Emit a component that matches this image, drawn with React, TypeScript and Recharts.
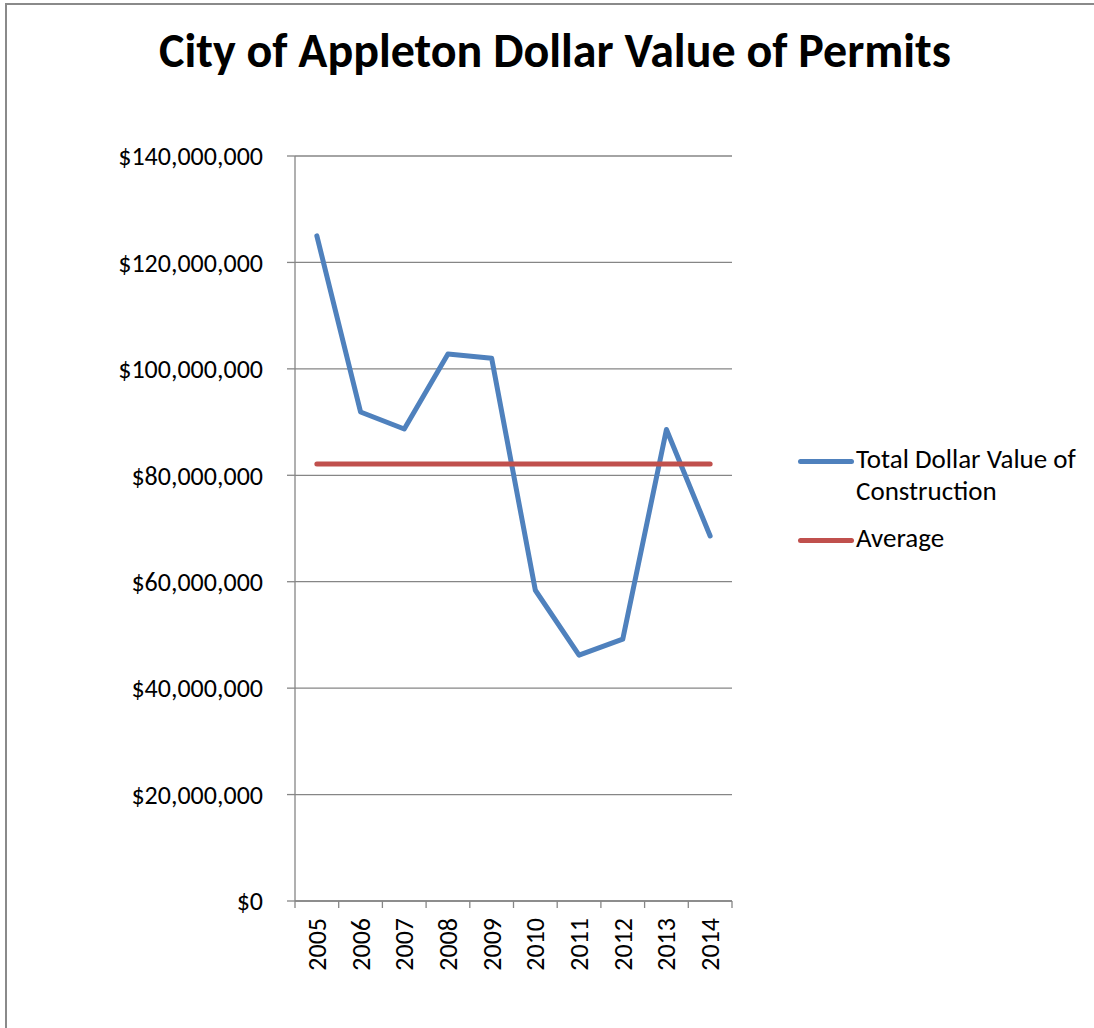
import React from 'react';
import { LineChart, Line, XAxis, YAxis, CartesianGrid } from 'recharts';

// values
const years = ['2005', '2006', '2007', '2008', '2009', '2010', '2011', '2012', '2013', '2014'];
const totalValues = [125000000, 91900000, 88700000, 102800000, 102000000, 58400000, 46200000, 49200000, 88600000, 68600000];
const averageValues = [82100000, 82100000, 82100000, 82100000, 82100000, 82100000, 82100000, 82100000, 82100000, 82100000];
const yTicks = [0, 20000000, 40000000, 60000000, 80000000, 100000000, 120000000, 140000000];

const seriesNames = ['Total Dollar Value of Construction', 'Average'];
const seriesColors = ['#4F81BD', '#C0504D'];

const data = years.map((year, i) => ({
  year,
  total: totalValues[i],
  average: averageValues[i],
}));

const FONT = 'Calibri, Carlito, Lato, sans-serif';
const GRID = '#868686';
const LABEL_GAP = 17;
const TICK_LEN = 7;

const money = (v: number) => '$' + v.toLocaleString('en-US');

// year label rotated, plus Excel-style tick marks on the category boundaries
const YearTick = (props: any) => {
  const { x, y, payload, index } = props;
  const half = payload.offset || 0;
  const axisY = y - LABEL_GAP;
  return (
    <g>
      <line x1={x - half} x2={x - half} y1={axisY} y2={axisY + TICK_LEN} stroke={GRID} strokeWidth={1.3} />
      {index === years.length - 1 && (
        <line x1={x + half} x2={x + half} y1={axisY} y2={axisY + TICK_LEN} stroke={GRID} strokeWidth={1.3} />
      )}
      <text
        x={x}
        y={y}
        transform={`rotate(-90, ${x}, ${y})`}
        textAnchor="end"
        dominantBaseline="central"
        fontFamily={FONT}
        fontSize={26}
        fill="#000"
      >
        {payload.value}
      </text>
    </g>
  );
};

const App = () => {
  return (
    <div style={{ position: 'absolute', left: 0, top: 0, width: 1094, height: 1028, overflow: 'hidden', background: '#fff' }}>
      <div style={{ position: 'absolute', left: 5, top: 3, width: 1200, height: 1200, border: '2px solid #8a8a8a' }} />
      <div
        style={{
          position: 'absolute',
          left: 0,
          top: 21,
          width: 1110,
          textAlign: 'center',
          fontFamily: FONT,
          fontWeight: 700,
          fontSize: 48,
          color: '#000',
        }}
      >
        City of Appleton Dollar Value of Permits
      </div>

      <div style={{ position: 'absolute', left: 0, top: 0 }}>
        <LineChart width={1094} height={1028} data={data} margin={{ top: 156, right: 362, bottom: 47, left: 95 }}>
          <CartesianGrid vertical={false} stroke={GRID} strokeWidth={1.3} />
          <XAxis
            dataKey="year"
            scale="band"
            height={80}
            axisLine={{ stroke: GRID, strokeWidth: 1.3 }}
            tickLine={false}
            tickSize={0}
            tickMargin={LABEL_GAP}
            interval={0}
            tick={<YearTick />}
          />
          <YAxis
            domain={[0, 140000000]}
            ticks={yTicks}
            width={200}
            tickFormatter={money}
            tickSize={8}
            tickMargin={24}
            stroke={GRID}
            axisLine={{ stroke: GRID, strokeWidth: 1.3 }}
            tickLine={{ stroke: GRID, strokeWidth: 1.3 }}
            tick={{ fontFamily: FONT, fontSize: 26, fill: '#000' }}
          />
          <Line
            dataKey="total"
            name={seriesNames[0]}
            stroke={seriesColors[0]}
            strokeWidth={5}
            strokeLinejoin="round"
            strokeLinecap="round"
            dot={false}
            activeDot={false}
            isAnimationActive={false}
          />
          <Line
            dataKey="average"
            name={seriesNames[1]}
            stroke={seriesColors[1]}
            strokeWidth={5}
            strokeLinecap="round"
            dot={false}
            activeDot={false}
            isAnimationActive={false}
          />
        </LineChart>
      </div>

      <div style={{ position: 'absolute', left: 798, top: 443, fontFamily: FONT, fontSize: 27, color: '#000' }}>
        {seriesNames.map((name, i) => (
          <div key={name} style={{ display: 'flex', alignItems: 'flex-start', marginBottom: 15 }}>
            <div style={{ width: 56, height: 5, marginTop: 16, borderRadius: 3, background: seriesColors[i], flexShrink: 0 }} />
            <div style={{ width: 240, lineHeight: '32px', marginLeft: 2 }}>{name}</div>
          </div>
        ))}
      </div>
    </div>
  );
};

export default App;
